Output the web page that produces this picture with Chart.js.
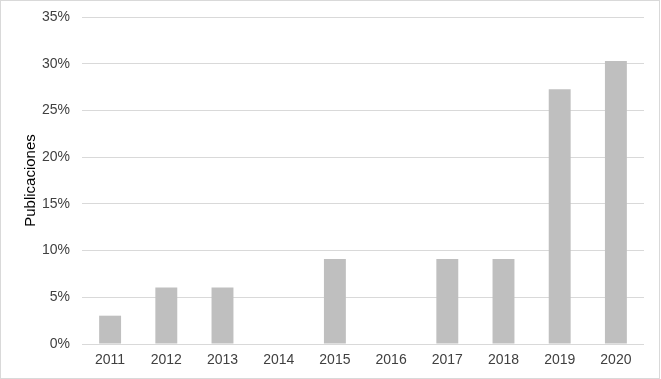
<!DOCTYPE html>
<html>
<head>
<meta charset="utf-8">
<script src="https://cdn.jsdelivr.net/npm/chart.js@4.4.1/dist/chart.umd.min.js"></script>
<style>
  html, body { margin: 0; padding: 0; background: #fff; }
  #wrap { position: relative; width: 661px; height: 379px; }
  #frame { position: absolute; left: 0; top: 0; width: 658px; height: 377px; border: 1px solid #d9d9d9; pointer-events: none; }
  canvas { position: absolute; left: 0; top: 0; }
</style>
</head>
<body>
<div id="wrap">
  <canvas id="pubChart" width="661" height="379"></canvas>
  <div id="frame"></div>
</div>
<script>
const years = ["2011", "2012", "2013", "2014", "2015", "2016", "2017", "2018", "2019", "2020"];
const publicaciones = [3.03, 6.06, 6.06, 0, 9.09, 0, 9.09, 9.09, 27.27, 30.30]; // % del total
const yMax = 35;
const yStep = 5;

const textColor = "#404040";
const fontFamily = "'Liberation Sans', Arial, sans-serif";

const ctx = document.getElementById("pubChart").getContext("2d");

new Chart(ctx, {
  type: "bar",
  data: {
    labels: years,
    datasets: [
      {
        label: "Publicaciones",
        data: publicaciones,
        backgroundColor: "#bfbfbf",
        borderWidth: 0,
        barPercentage: 0.39,
        categoryPercentage: 1,
      },
    ],
  },
  options: {
    responsive: false,
    animation: false,
    layout: {
      padding: { top: 17, right: 17, bottom: 0, left: 0 },
    },
    plugins: {
      legend: { display: false },
      tooltip: { enabled: false },
    },
    scales: {
      x: {
        grid: { display: false, drawTicks: false },
        border: { display: false },
        ticks: {
          color: textColor,
          font: { family: fontFamily, size: 14 },
          padding: 8,
          maxRotation: 0,
        },
        afterFit: function (scale) {
          scale.height = 35;
        },
      },
      y: {
        min: 0,
        max: yMax,
        grid: { color: "#d9d9d9", lineWidth: 1, drawTicks: false },
        border: { display: false },
        ticks: {
          stepSize: yStep,
          color: textColor,
          font: { family: fontFamily, size: 14 },
          padding: 12,
          callback: function (value) {
            return value + "%";
          },
        },
        title: {
          display: true,
          text: "Publicaciones",
          color: "#000",
          font: { family: fontFamily, size: 15 },
          padding: { top: 22, bottom: 0 },
        },
        afterFit: function (scale) {
          scale.width = 82;
          scale.paddingTop = 0; // no extra room for the top label
          scale.paddingBottom = 0;
        },
      },
    },
  },
});
</script>
</body>
</html>
